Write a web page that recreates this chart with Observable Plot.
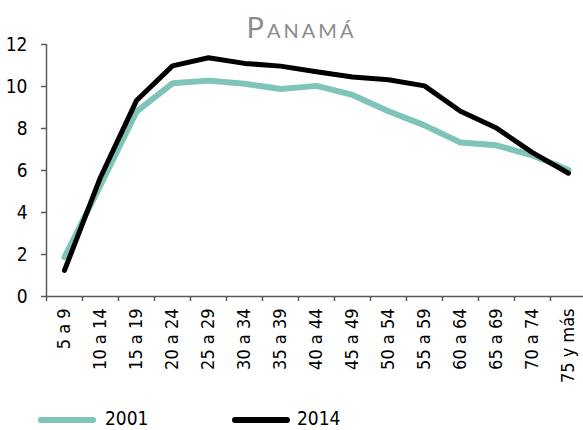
<!DOCTYPE html>
<html>
<head>
<meta charset="utf-8">
<script src="https://cdn.jsdelivr.net/npm/d3@7"></script>
<script src="https://cdn.jsdelivr.net/npm/@observablehq/plot@0.6"></script>
<style>
  html, body { margin: 0; padding: 0; background: #fff; }
  body { width: 583px; height: 430px; overflow: hidden; font-family: "DejaVu Sans Condensed", "DejaVu Sans", sans-serif; font-stretch: condensed; }
  #title { position: relative; z-index: 2; height: 40px; box-sizing: border-box; padding-top: 12px; padding-left: 20px;
    text-align: center; font-family: Lato, "Open Sans", sans-serif; font-stretch: normal; font-variant: small-caps; font-size: 29px;
    line-height: 1; letter-spacing: 3px; color: #8c8c8c; }
  #chart { position: relative; z-index: 1; height: 350px; }
  #chart svg text { font-stretch: condensed; }
  #legend { position: relative; height: 40px; }
  .sw { position: absolute; height: 6px; border-radius: 3px; top: 27px; }
  .lt { position: absolute; top: 18px; font-size: 19px; line-height: 20px; color: #000; font-stretch: condensed; }
</style>
</head>
<body>
<div id="title">Panamá</div>
<div id="chart"></div>
<div id="legend"></div>
<script>
const categories = ["5 a 9", "10 a 14", "15 a 19", "20 a 24", "25 a 29", "30 a 34", "35 a 39", "40 a 44",
  "45 a 49", "50 a 54", "55 a 59", "60 a 64", "65 a 69", "70 a 74", "75 y más"];
const values2001 = [1.87, 5.3, 8.8, 10.15, 10.28, 10.13, 9.88, 10.03, 9.6, 8.82, 8.15, 7.33, 7.2, 6.72, 6.02];
const values2014 = [1.24, 5.68, 9.33, 10.98, 11.37, 11.1, 10.97, 10.7, 10.45, 10.32, 10.03, 8.82, 8.02, 6.85, 5.87];
const yTicks = [0, 2, 4, 6, 8, 10, 12];
const seriesNames = ["2001", "2014"];
const seriesColors = ["#7fc4b8", "#000000"];

const rows2001 = categories.map((c, i) => ({i, v: values2001[i]}));
const rows2014 = categories.map((c, i) => ({i, v: values2014[i]}));
const idx = d3.range(categories.length);
const boundaries = idx.map(i => i - 0.5);

const plot = Plot.plot({
  width: 583,
  height: 350,
  marginTop: 4,
  marginLeft: 46,
  marginRight: 0,
  marginBottom: 94,
  style: {overflow: "visible", background: "transparent", fontFamily: "'DejaVu Sans Condensed', 'DejaVu Sans', sans-serif", fontSize: "19px", color: "#000"},
  x: {domain: [-0.5, categories.length - 0.5], range: [46, 586]},
  y: {domain: [0, 12]},
  marks: [
    Plot.axisY({ticks: yTicks, tickSize: 5, tickPadding: 14, tickFormat: d => String(d), label: null, stroke: "#595959", strokeWidth: 1.5, fill: "#000"}),
    Plot.axisX({ticks: boundaries, tickSize: 5, tickFormat: () => "", label: null, stroke: "#595959", strokeWidth: 1.5}),
    Plot.axisX({ticks: idx, tickSize: 0, tickPadding: 12, tickRotate: -90, tickFormat: i => categories[i], label: null, fill: "#000", fontSize: 18}),
    Plot.ruleX([-0.5], {stroke: "#595959", strokeWidth: 1.5}),
    Plot.ruleY([0], {stroke: "#595959", strokeWidth: 1.5}),
    Plot.line(rows2001, {x: "i", y: "v", stroke: seriesColors[0], strokeWidth: 6, strokeLinecap: "round", strokeLinejoin: "round"}),
    Plot.line(rows2014, {x: "i", y: "v", stroke: seriesColors[1], strokeWidth: 5, strokeLinecap: "round", strokeLinejoin: "round"})
  ]
});
document.getElementById("chart").appendChild(plot);

const legend = document.getElementById("legend");
const swLeft = [38, 232];
const txtLeft = [105, 297];
seriesNames.forEach((name, k) => {
  const sw = document.createElement("div");
  sw.className = "sw";
  sw.style.left = swLeft[k] + "px";
  sw.style.width = "58px";
  sw.style.background = seriesColors[k];
  legend.appendChild(sw);
  const t = document.createElement("div");
  t.className = "lt";
  t.style.left = txtLeft[k] + "px";
  t.textContent = name;
  legend.appendChild(t);
});
</script>
</body>
</html>
